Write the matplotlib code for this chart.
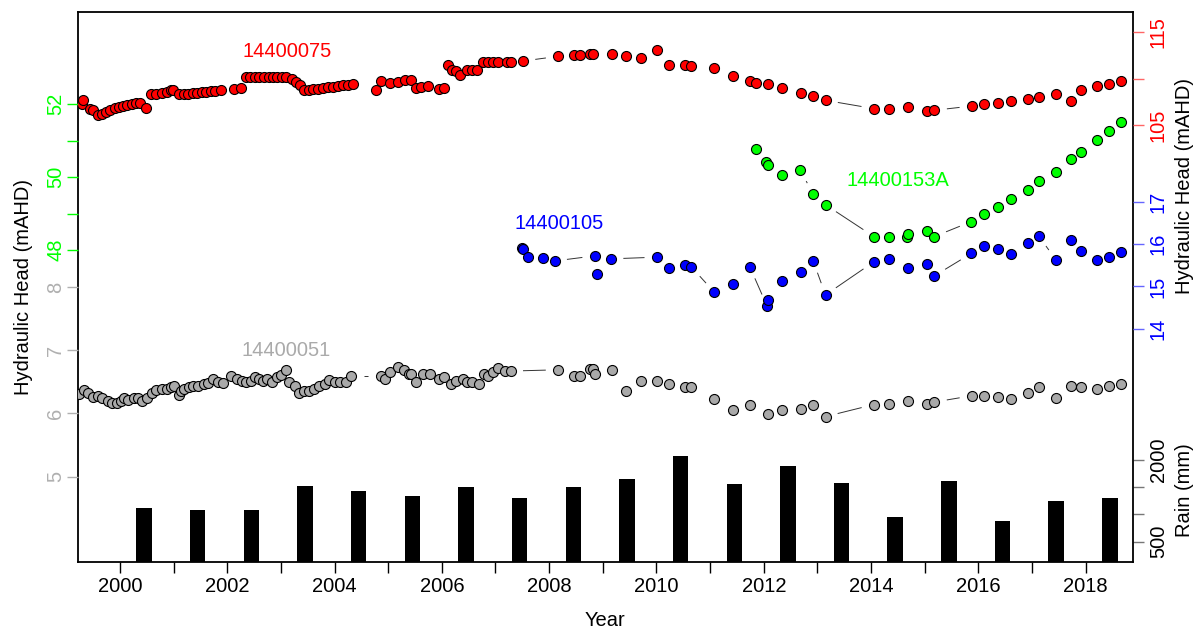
"""Hydraulic head hydrographs of four bores with annual rainfall bars."""

import matplotlib

matplotlib.use("Agg")
import matplotlib.pyplot as plt
import numpy as np
from matplotlib.collections import LineCollection

plt.rcParams["font.family"] = ["Liberation Sans", "DejaVu Sans"]
plt.rcParams["font.size"] = 14

# ---------------- data ----------------
red_t = [1999.29, 1999.32, 1999.44, 1999.50, 1999.60, 1999.66, 1999.75, 1999.81, 1999.91, 1999.98,
         2000.06, 2000.13, 2000.22, 2000.30, 2000.37, 2000.48,
         2000.58, 2000.68, 2000.78, 2000.88, 2000.96, 2000.99, 2001.10, 2001.19, 2001.27, 2001.36,
         2001.44, 2001.53, 2001.61, 2001.70, 2001.78, 2001.88, 2002.12, 2002.25,
         2002.35, 2002.43, 2002.52, 2002.60, 2002.68, 2002.77, 2002.85, 2002.93, 2003.02, 2003.10,
         2003.20, 2003.29, 2003.36, 2003.43, 2003.52, 2003.60, 2003.69, 2003.78, 2003.88, 2003.97,
         2004.06, 2004.16, 2004.25, 2004.34,
         2004.78, 2004.86, 2005.03, 2005.19, 2005.32, 2005.42, 2005.52, 2005.62, 2005.75, 2005.94, 2006.04,
         2006.11, 2006.19, 2006.27, 2006.34, 2006.47, 2006.56, 2006.66, 2006.76, 2006.86, 2006.96,
         2007.05, 2007.22, 2007.28, 2007.51,
         2008.17, 2008.47, 2008.58, 2008.76, 2008.81, 2009.17, 2009.44, 2009.71, 2010.01, 2010.24,
         2010.53, 2010.65, 2011.08, 2011.42, 2011.74, 2011.86, 2012.08, 2012.34, 2012.70, 2012.92,
         2013.15, 2014.05, 2014.34, 2014.68, 2015.04, 2015.18, 2015.88, 2016.11, 2016.36, 2016.60,
         2016.92, 2017.12, 2017.45, 2017.72, 2017.91, 2018.20, 2018.43, 2018.65]
red_v = [107.31, 107.66, 106.69, 106.59, 106.05, 106.15, 106.40, 106.59, 106.80, 106.91,
         107.02, 107.12, 107.23, 107.34, 107.39, 106.80,
         108.31, 108.39, 108.45, 108.56, 108.74, 108.74, 108.31, 108.34, 108.39, 108.42,
         108.47, 108.53, 108.58, 108.64, 108.69, 108.74, 108.93, 109.03,
         110.18, 110.20, 110.18, 110.20, 110.18, 110.20, 110.18, 110.18, 110.20, 110.15,
         110.01, 109.64, 109.28, 108.82, 108.82, 108.85, 108.91, 108.96, 109.07, 109.12,
         109.17, 109.28, 109.34, 109.44,
         108.74, 109.75, 109.53, 109.61, 109.82, 109.90, 109.03, 109.10, 109.17, 108.93, 108.99,
         111.44, 110.90, 110.83, 110.36, 110.90, 110.90, 110.90, 111.80, 111.80, 111.80,
         111.80, 111.80, 111.80, 111.90,
         112.41, 112.52, 112.52, 112.63, 112.63, 112.70, 112.41, 112.27, 113.06, 111.44,
         111.44, 111.36, 111.19, 110.25, 109.71, 109.57, 109.46, 108.99, 108.45, 108.13,
         107.66, 106.77, 106.77, 106.94, 106.51, 106.59, 107.05, 107.31, 107.42, 107.59,
         107.85, 108.02, 108.31, 107.56, 108.74, 109.17, 109.47, 109.71]

green_t = [2011.86, 2012.04, 2012.08, 2012.34, 2012.68, 2012.92, 2013.15, 2014.05, 2014.34, 2014.67,
           2014.69, 2015.04, 2015.18, 2015.87, 2016.11, 2016.36, 2016.60, 2016.92, 2017.12, 2017.45,
           2017.72, 2017.91, 2018.20, 2018.43, 2018.65]
green_v = [50.77, 50.41, 50.33, 50.06, 50.19, 49.53, 49.24, 48.37, 48.35, 48.36,
           48.45, 48.51, 48.37, 48.78, 48.99, 49.17, 49.40, 49.65, 49.90, 50.15,
           50.50, 50.68, 51.02, 51.27, 51.50]

blue_t = [2007.49, 2007.52, 2007.61, 2007.89, 2008.10, 2008.85, 2008.89, 2009.15, 2010.01, 2010.24,
          2010.53, 2010.65, 2011.08, 2011.42, 2011.74, 2012.06, 2012.08, 2012.34, 2012.70, 2012.92,
          2013.15, 2014.05, 2014.34, 2014.68, 2015.04, 2015.18, 2015.87, 2016.11, 2016.36, 2016.60,
          2016.92, 2017.12, 2017.45, 2017.72, 2017.91, 2018.20, 2018.43, 2018.65]
blue_v = [15.91, 15.88, 15.69, 15.66, 15.60, 15.72, 15.29, 15.65, 15.69, 15.43,
          15.50, 15.46, 14.86, 15.06, 15.46, 14.54, 14.68, 15.13, 15.35, 15.60,
          14.80, 15.58, 15.64, 15.44, 15.52, 15.25, 15.78, 15.95, 15.88, 15.76,
          16.03, 16.19, 15.62, 16.09, 15.84, 15.62, 15.70, 15.82]

grey_t = [1999.24, 1999.33, 1999.41, 1999.50, 1999.59, 1999.67, 1999.77, 1999.86, 1999.95, 2000.03,
          2000.07, 2000.16, 2000.26, 2000.33, 2000.42, 2000.50, 2000.59, 2000.68, 2000.78, 2000.88,
          2000.96, 2001.01, 2001.10, 2001.14, 2001.20, 2001.29, 2001.37, 2001.46, 2001.56, 2001.64,
          2001.73, 2001.82, 2001.92, 2002.08, 2002.18, 2002.27, 2002.35, 2002.44, 2002.51, 2002.60,
          2002.66, 2002.75, 2002.84, 2002.92, 2003.00, 2003.10, 2003.16, 2003.26, 2003.33, 2003.43,
          2003.52, 2003.62, 2003.72, 2003.82, 2003.90, 2004.01, 2004.11, 2004.21, 2004.31,
          2004.86, 2004.95, 2005.03, 2005.19, 2005.29, 2005.39, 2005.42, 2005.52, 2005.65, 2005.78,
          2005.94, 2006.04, 2006.17, 2006.27, 2006.40, 2006.47, 2006.56, 2006.69, 2006.79, 2006.86,
          2006.96, 2007.05, 2007.18, 2007.28,
          2008.17, 2008.47, 2008.58, 2008.76, 2008.81, 2008.85, 2009.17, 2009.44, 2009.71, 2010.01,
          2010.24, 2010.53, 2010.65, 2011.08, 2011.42, 2011.74, 2012.08, 2012.34, 2012.70, 2012.92,
          2013.15, 2014.05, 2014.34, 2014.68, 2015.04, 2015.18, 2015.88, 2016.11, 2016.36, 2016.60,
          2016.92, 2017.12, 2017.45, 2017.72, 2017.91, 2018.20, 2018.43, 2018.65]
grey_v = [6.31, 6.37, 6.32, 6.26, 6.28, 6.24, 6.19, 6.16, 6.16, 6.19,
          6.24, 6.21, 6.25, 6.24, 6.20, 6.25, 6.32, 6.37, 6.38, 6.38,
          6.41, 6.43, 6.29, 6.36, 6.38, 6.41, 6.43, 6.44, 6.46, 6.48,
          6.54, 6.50, 6.48, 6.59, 6.55, 6.51, 6.50, 6.52, 6.57, 6.55,
          6.52, 6.54, 6.50, 6.58, 6.60, 6.69, 6.50, 6.43, 6.33, 6.36,
          6.36, 6.39, 6.44, 6.47, 6.53, 6.50, 6.49, 6.49, 6.59,
          6.59, 6.54, 6.65, 6.74, 6.69, 6.63, 6.62, 6.50, 6.62, 6.62,
          6.55, 6.57, 6.46, 6.51, 6.54, 6.50, 6.49, 6.46, 6.62, 6.59,
          6.65, 6.72, 6.67, 6.67,
          6.69, 6.59, 6.59, 6.71, 6.70, 6.62, 6.69, 6.36, 6.51, 6.51,
          6.47, 6.41, 6.41, 6.23, 6.06, 6.13, 5.99, 6.06, 6.07, 6.13,
          5.95, 6.14, 6.15, 6.20, 6.15, 6.18, 6.28, 6.28, 6.26, 6.23,
          6.33, 6.41, 6.25, 6.44, 6.41, 6.39, 6.44, 6.46]

rain_year = [2000, 2001, 2002, 2003, 2004, 2005, 2006, 2007, 2008, 2009,
             2010, 2011, 2012, 2013, 2014, 2015, 2016, 2017, 2018]
rain_mm = [1112, 1081, 1076, 1522, 1430, 1338, 1504, 1302, 1504, 1650,
           2073, 1553, 1889, 1572, 958, 1608, 879, 1241, 1302]

RED, GREEN, BLUE = "#FF0000", "#00FF00", "#0000FF"
GREY_PT, GREY_TXT = "#A9A9A9", "#AAAAAA"

W, H = 1195, 632
RECT = [78 / W, 70 / H, 1055 / W, 550 / H]
XLIM = (1999.22, 2018.88)


def overlay(fig, name):
    ax = fig.add_axes(RECT, label=name)
    ax.set_xlim(*XLIM)
    ax.patch.set_visible(False)
    for s in ax.spines.values():
        s.set_visible(False)
    ax.xaxis.set_visible(False)
    return ax


def y_ticks(ax, side, ticks, labels, color, tick_color=None, pad=2):
    if side == "left":
        ax.yaxis.tick_left()
    else:
        ax.yaxis.tick_right()
    ax.set_yticks(ticks)
    ax.set_yticklabels(labels, rotation=90, va="center", color=color, fontsize=14.5)
    ax.tick_params(axis="y", direction="out", length=8, width=1.0,
                   color=tick_color or color, pad=pad)


def draw_series(ax, t, v, fill, gap=12.5):
    # R type="b": segments with a gap around each point
    xy = ax.transData.transform(np.column_stack([t, v]))
    inv = ax.transData.inverted()
    segs = []
    for a, b in zip(xy[:-1], xy[1:]):
        d = b - a
        n = np.hypot(d[0], d[1])
        if n > 2 * gap + 1:
            u = d / n
            segs.append(inv.transform(np.array([a + u * gap, b - u * gap])))
    ax.add_collection(LineCollection(segs, colors="#333333", linewidths=0.7))
    ax.plot(t, v, "o", ms=7.2, mfc=fill, mec="black", mew=0.8, ls="none", clip_on=True)


fig = plt.figure(figsize=(W / 100, H / 100), dpi=100)

# rain (base axes, carries frame and x axis)
ax_rain = fig.add_axes(RECT, label="rain")
ax_rain.set_xlim(*XLIM)
ax_rain.set_ylim(127.4, 10224.7)
ax_rain.bar([y + 0.45 for y in rain_year], rain_mm, width=0.29, color="black", bottom=0)
for s in ax_rain.spines.values():
    s.set_linewidth(1.3)
ax_rain.set_xticks(range(2000, 2019))
ax_rain.set_xticklabels([str(y) if y % 2 == 0 else "" for y in range(2000, 2019)], fontsize=14.5)
ax_rain.tick_params(axis="x", direction="out", length=8, width=1.0, pad=3)
y_ticks(ax_rain, "right", [500, 1000, 1500, 2000], ["500", "", "", "2000"], "black",
        tick_color="#777777", pad=3.5)

ax_grey = overlay(fig, "grey")
ax_grey.set_ylim(3.649, 12.351)
y_ticks(ax_grey, "left", [5, 6, 7, 8], ["5", "6", "7", "8"], "#B0B0B0", pad=1)

ax_green = overlay(fig, "green")
ax_green.set_ylim(39.452, 54.521)
y_ticks(ax_green, "left", [48, 49, 50, 51, 52], ["48", "", "50", "", "52"], GREEN, pad=1)

ax_blue = overlay(fig, "blue")
ax_blue.set_ylim(8.505, 21.468)
y_ticks(ax_blue, "right", [14, 15, 16, 17], ["14", "15", "16", "17"], BLUE,
        tick_color="#6666FF", pad=3.5)

ax_red = overlay(fig, "red")
ax_red.set_ylim(57.86, 117.19)
y_ticks(ax_red, "right", [105, 110, 115], ["105", "", "115"], RED,
        tick_color="#FF6666", pad=3.5)

draw_series(ax_grey, grey_t, grey_v, GREY_PT)
draw_series(ax_green, green_t, green_v, GREEN)
draw_series(ax_blue, blue_t, blue_v, BLUE)
draw_series(ax_red, red_t, red_v, RED)

ax_red.text(2003.11, 112.95, "14400075", color=RED, ha="center", va="center", fontsize=14.5)
ax_grey.text(2003.09, 7.0, "14400051", color=GREY_TXT, ha="center", va="center", fontsize=14.5)
ax_blue.text(2008.18, 16.49, "14400105", color=BLUE, ha="center", va="center", fontsize=14.5)
ax_green.text(2014.49, 49.9, "14400153A", color=GREEN, ha="center", va="center", fontsize=14.5)

fig.text(24 / W, 1 - 287 / H, "Hydraulic Head (mAHD)", rotation=90, ha="center", va="center",
         fontsize=14.5)
fig.text(1185 / W, 1 - 186 / H, "Hydraulic Head (mAHD)", rotation=90, ha="center", va="center",
         fontsize=14.5)
fig.text(1185 / W, 1 - 490 / H, "Rain (mm)", rotation=90, ha="center", va="center", fontsize=14.5)
fig.text(605 / W, 1 - 620 / H, "Year", ha="center", va="center", fontsize=14.5)

fig.savefig("out.png", dpi=100)
plt.close(fig)
